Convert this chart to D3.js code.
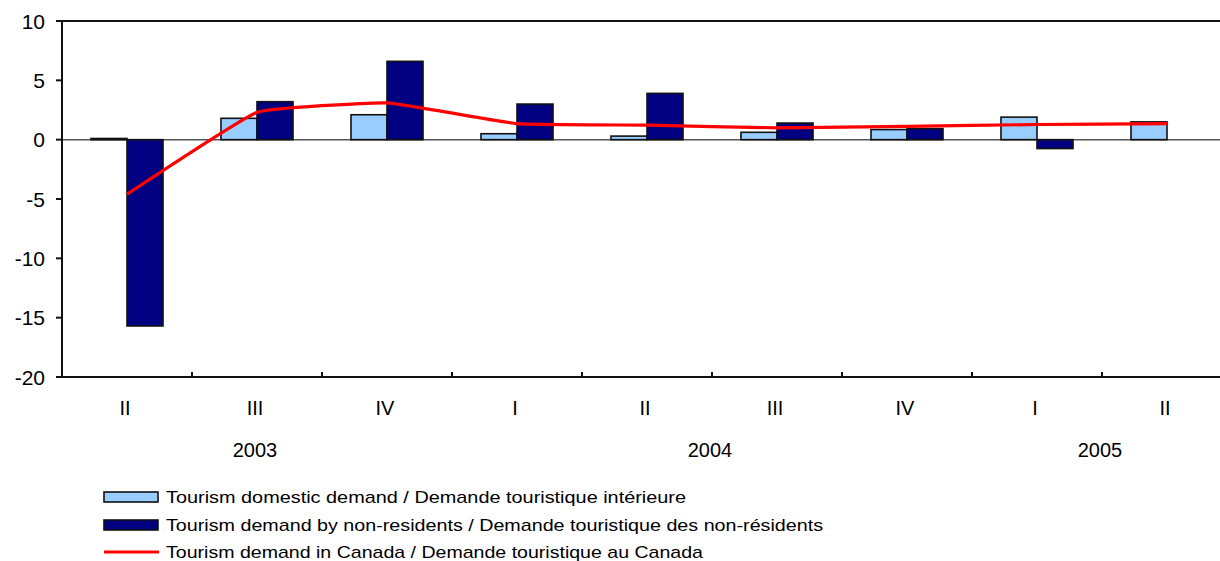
<!DOCTYPE html>
<html><head><meta charset="utf-8">
<script src="https://cdn.jsdelivr.net/npm/d3@7"></script>
<style>body{margin:0;background:#fff}svg{display:block}text{font-family:"Liberation Sans",Arial,sans-serif;fill:#000}</style>
</head><body>
<svg id="c" width="1220" height="561"></svg>
<script>
const quarters = ["II","III","IV","I","II","III","IV","I","II"];
const years = [{label:"2003", from:0, to:2},{label:"2004", from:3, to:6},{label:"2005", from:7, to:8}];
const domestic = [0.1, 1.8, 2.1, 0.5, 0.3, 0.62, 0.85, 1.9, 1.5];
const nonResidents = [-15.7, 3.2, 6.6, 3.0, 3.9, 1.4, 0.93, -0.75, null];
const canada = [-4.6, 2.3, 3.1, 1.35, 1.22, 1.0, 1.12, 1.28, 1.35];
const yTicks = [10, 5, 0, -5, -10, -15, -20];
const legendLabels = [
  "Tourism domestic demand / Demande touristique intérieure",
  "Tourism demand by non-residents / Demande touristique des non-résidents",
  "Tourism demand in Canada / Demande touristique au Canada"
];

const svg = d3.select("#c");
const L = 62, T = 21, B = 377, R = 1232;
const idx = d3.range(quarters.length);
const x = d3.scaleBand().domain(idx).range([L, R]).paddingInner(0.446).paddingOuter(0.223);
const xs = d3.scaleBand().domain(["d","n"]).range([0, x.bandwidth()]);
const y = d3.scaleLinear().domain([-20, 10]).range([B, T]);

// zero line
svg.append("line").attr("x1", L).attr("x2", R).attr("y1", y(0)).attr("y2", y(0))
  .attr("stroke", "#555").attr("stroke-width", 1.5);

// bars
const series = [{key:"d", vals:domestic, fill:"#99CCFF"},{key:"n", vals:nonResidents, fill:"#000080"}];
series.forEach(s => {
  svg.append("g").selectAll("rect").data(idx.filter(i => s.vals[i] !== null)).join("rect")
    .attr("x", i => x(i) + xs(s.key))
    .attr("width", xs.bandwidth())
    .attr("y", i => y(Math.max(0, s.vals[i])))
    .attr("height", i => Math.abs(y(s.vals[i]) - y(0)))
    .attr("fill", s.fill).attr("stroke", "#111").attr("stroke-width", 1.6);
});

// axes
const axisColor = "#111";
svg.append("line").attr("x1", L).attr("x2", L).attr("y1", T).attr("y2", B).attr("stroke", axisColor).attr("stroke-width", 2);
svg.append("line").attr("x1", L).attr("x2", R).attr("y1", T).attr("y2", T).attr("stroke", axisColor).attr("stroke-width", 2);
svg.append("line").attr("x1", L).attr("x2", R).attr("y1", B).attr("y2", B).attr("stroke", axisColor).attr("stroke-width", 2);

const yg = svg.append("g");
yTicks.forEach(t => {
  yg.append("line").attr("x1", L - 6).attr("x2", L).attr("y1", y(t)).attr("y2", y(t)).attr("stroke", axisColor).attr("stroke-width", 2);
  yg.append("text").attr("x", 45).attr("y", y(t)).attr("dy", "0.36em").attr("text-anchor", "end")
    .attr("font-size", 21).text(t);
});

// category boundaries ticks
const step = x.step();
d3.range(1, quarters.length).forEach(i => {
  const bx = x(i) - (step - x.bandwidth()) / 2;
  svg.append("line").attr("x1", bx).attr("x2", bx).attr("y1", B - 5).attr("y2", B).attr("stroke", axisColor).attr("stroke-width", 2);
});

svg.append("g").selectAll("text").data(idx).join("text")
  .attr("x", i => x(i) + x.bandwidth() / 2 - 2).attr("y", 408).attr("dy", "0.36em")
  .attr("text-anchor", "middle").attr("font-size", 20).text(i => quarters[i]);

svg.append("g").selectAll("text").data(years).join("text")
  .attr("x", d => (x(d.from) + x(d.to) + x.bandwidth()) / 2 - 2).attr("y", 450).attr("dy", "0.36em")
  .attr("text-anchor", "middle").attr("font-size", 20).text(d => d.label);

// line
const line = d3.line().x(i => x(i) + x.bandwidth() / 2).y(i => y(canada[i])).curve(d3.curveCardinal.tension(0.7));
svg.append("path").attr("d", line(idx)).attr("fill", "none").attr("stroke", "#FF0000").attr("stroke-width", 3.2);

// legend
const lg = svg.append("g");
const rows = [497, 525, 552];
const ends = [686, 823, 703];
lg.append("rect").attr("x", 104).attr("y", 492).attr("width", 54).attr("height", 10).attr("fill", "#99CCFF").attr("stroke", "#111").attr("stroke-width", 1.6);
lg.append("rect").attr("x", 104).attr("y", 520).attr("width", 54).attr("height", 10).attr("fill", "#000080").attr("stroke", "#111").attr("stroke-width", 1.6);
lg.append("line").attr("x1", 104).attr("x2", 159).attr("y1", 552).attr("y2", 552).attr("stroke", "#FF0000").attr("stroke-width", 3.2);
legendLabels.forEach((t, k) => {
  lg.append("text").attr("x", 166).attr("y", rows[k]).attr("dy", "0.36em").attr("font-size", 17)
    .attr("textLength", ends[k] - 166).attr("lengthAdjust", "spacingAndGlyphs").text(t);
});
</script>
</body></html>
